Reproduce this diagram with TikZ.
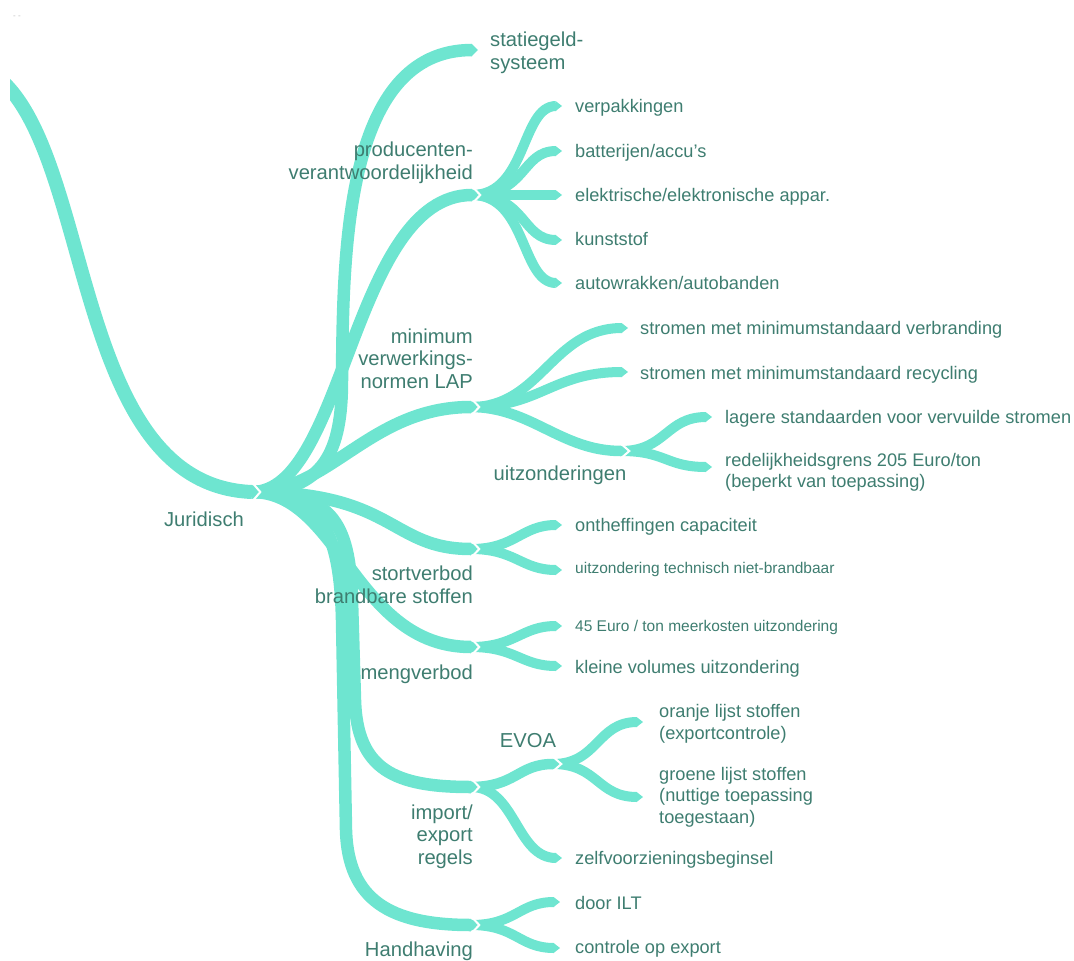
\documentclass[tikz,border=0pt]{standalone}
\usepackage{fontspec}
\setmainfont{Liberation Sans}
\usetikzlibrary{calc}
\definecolor{br}{RGB}{110,229,208}
\definecolor{txt}{RGB}{62,125,112}
\tikzset{
  lroot/.style={draw=br, line width=14pt},
  lone/.style={draw=br, line width=12.5pt},
  ltwo/.style={draw=br, line width=10pt},
  lmid/.style={draw=br, line width=10.5pt},
  big/.style={text=txt, font=\fontsize{20.2}{22.5}\selectfont, inner sep=0pt, align=right, anchor=base east},
  bigc/.style={text=txt, font=\fontsize{20.2}{22.5}\selectfont, inner sep=0pt, anchor=base},
  leaf/.style={text=txt, font=\fontsize{18.2}{21.5}\selectfont, inner sep=0pt, align=left, anchor=base west},
  smallleaf/.style={text=txt, font=\fontsize{15.5}{18}\selectfont, inner sep=0pt, anchor=base west},
}
\newcommand\brc[5]{\draw[#1] (#2) .. controls ($(#2)+(#4,0)$) and ($(#3)+(-#5,0)$) .. (#3);}
\newcommand\tipat[2]{\fill[br] ($(#1)+(-0.4,{-#2/2})$) -- ($(#1)+(6,0)$) -- ($(#1)+(-0.4,{#2/2})$) -- cycle;}
\newcommand\notchat[2]{\draw[white,line width=2pt] ($(#1)+({8.3-(#2/2+4)*12/#2},{-(#2/2+4)})$) -- ($(#1)+(8.3,0)$) -- ($(#1)+({8.3-(#2/2+4)*12/#2},{#2/2+4})$);}
\begin{document}
\begin{tikzpicture}[x=1pt,y=-1pt]
\useasboundingbox (0,0) rectangle (1074,961);
% coordinates
\coordinate (r0) at (-5,75);
\coordinate (jur) at (252,492);
\coordinate (sta) at (472,50);
\coordinate (pro) at (472,195);
\coordinate (min) at (471,407);
\coordinate (sto) at (471,549);
\coordinate (men) at (471,647);
\coordinate (imp) at (471,787);
\coordinate (han) at (471,925);
\coordinate (verp) at (556,106);
\coordinate (batt) at (556,151);
\coordinate (elek) at (556,195);
\coordinate (kuns) at (556,240);
\coordinate (auto) at (556,283);
\coordinate (sverb) at (622,328);
\coordinate (srec) at (622,372);
\coordinate (uitz) at (621,451);
\coordinate (lag) at (706,417);
\coordinate (red) at (706,467);
\coordinate (onth) at (556,525);
\coordinate (tech) at (556,570);
\coordinate (eur) at (556,626);
\coordinate (klei) at (556,666);
\coordinate (evoa) at (553,764);
\coordinate (zelf) at (556,858);
\coordinate (oran) at (637,722);
\coordinate (groe) at (637,797);
\coordinate (ilt) at (554,902);
\coordinate (cont) at (554,948);
% root
\begin{scope}
\clip (10,0) rectangle (1074,961);
\draw[lroot] (r0) .. controls (95,150) and (70,485) .. (jur);
\end{scope}
% level 1
\draw[lone] (jur) .. controls (325,492) and (342,450) .. (342,380) .. controls (343,250) and (345,50) .. (sta);
\draw[lone] (jur) .. controls (345,492) and (352,195) .. (pro);
\draw[lone] (jur) .. controls (330,492) and (370,407) .. (min);
\draw[lone] (jur) .. controls (395,492) and (390,549) .. (sto);
\draw[lone] (jur) .. controls (340,492) and (355,647) .. (men);
\draw[lone] (jur) .. controls (330,492) and (350,520) .. (352,600) -- (355,700) .. controls (357,770) and (395,787) .. (imp);
\draw[lone] (jur) .. controls (320,492) and (340,530) .. (342,620) -- (346,830) .. controls (348,900) and (390,925) .. (han);
% level 2
\brc{ltwo}{pro}{verp}{55}{35}
\brc{ltwo}{pro}{batt}{55}{35}
\brc{ltwo}{pro}{elek}{55}{35}
\brc{ltwo}{pro}{kuns}{55}{35}
\brc{ltwo}{pro}{auto}{55}{35}
\brc{ltwo}{min}{sverb}{70}{70}
\brc{ltwo}{min}{srec}{70}{70}
\brc{lmid}{min}{uitz}{60}{60}
\brc{ltwo}{uitz}{lag}{45}{40}
\brc{ltwo}{uitz}{red}{45}{40}
\brc{ltwo}{sto}{onth}{45}{35}
\brc{ltwo}{sto}{tech}{45}{35}
\brc{ltwo}{men}{eur}{45}{35}
\brc{ltwo}{men}{klei}{45}{35}
\brc{lmid}{imp}{evoa}{45}{35}
\brc{ltwo}{imp}{zelf}{45}{40}
\brc{ltwo}{evoa}{oran}{45}{40}
\brc{ltwo}{evoa}{groe}{45}{40}
\brc{ltwo}{han}{ilt}{45}{35}
\brc{ltwo}{han}{cont}{45}{35}
% tips
\tipat{jur}{14}
\foreach \c in {sta,pro,min,sto,men,imp,han} {\tipat{\c}{12.5}}
\foreach \c in {uitz,evoa} {\tipat{\c}{10.5}}
\foreach \c in {verp,batt,elek,kuns,auto,sverb,srec,lag,red,onth,tech,eur,klei,zelf,oran,groe,ilt,cont} {\tipat{\c}{10}}
% notches
\notchat{jur}{14}
\foreach \c in {pro,min,sto,men,imp,han} {\notchat{\c}{12.5}}
\foreach \c in {uitz,evoa} {\notchat{\c}{10.5}}
% labels (base anchor = baseline of the last line)
\node[text=gray!50, font=\fontsize{8}{9}\selectfont, inner sep=0pt, anchor=base west] (dash) at (13,19) {- -};
\node[bigc] (tjur) at (204,526) {Juridisch};
\node[big, align=left, anchor=base west] (tsta) at (490,69) {statiegeld-\\systeem};
\node[big] (tpro) at (473,179) {producenten-\\verantwoordelijkheid};
\node[big] (tmin) at (473,388) {minimum\\verwerkings-\\normen LAP};
\node[bigc] (tuitz) at (560,480) {uitzonderingen};
\node[big] (tsto) at (473,603) {stortverbod\\brandbare stoffen};
\node[big] (tmen) at (473,679) {mengverbod};
\node[bigc] (tevoa) at (528,747) {EVOA};
\node[big] (timp) at (473,864) {import/\\export\\regels};
\node[big] (than) at (473,956) {Handhaving};
\node[leaf] (lverp) at (575,112) {verpakkingen};
\node[leaf] (lbatt) at (575,157.5) {batterijen/accu's};
\node[leaf] (lelek) at (575,201.5) {elektrische/elektronische appar.};
\node[leaf] (lkuns) at (575,245.5) {kunststof};
\node[leaf] (lauto) at (575,289.5) {autowrakken/autobanden};
\node[leaf] (lsverb) at (640,334.5) {stromen met minimumstandaard verbranding};
\node[leaf] (lsrec) at (640,379.5) {stromen met minimumstandaard recycling};
\node[leaf] (llag) at (725,423) {lagere standaarden voor vervuilde stromen};
\node[leaf] (lred) at (725,487.5) {redelijkheidsgrens 205 Euro/ton\\(beperkt van toepassing)};
\node[leaf] (lonth) at (575,531.5) {ontheffingen capaciteit};
\node[smallleaf] (ltech) at (575,573.5) {uitzondering technisch niet-brandbaar};
\node[smallleaf] (leur) at (575,631.5) {45 Euro / ton meerkosten uitzondering};
\node[leaf] (lklei) at (575,673.5) {kleine volumes uitzondering};
\node[leaf] (loran) at (659,739) {oranje lijst stoffen\\(exportcontrole)};
\node[leaf] (lgroe) at (659,823) {groene lijst stoffen\\(nuttige toepassing\\toegestaan)};
\node[leaf] (lzelf) at (575,864.5) {zelfvoorzieningsbeginsel};
\node[leaf] (lilt) at (575,909.5) {door ILT};
\node[leaf] (lcont) at (575,953.5) {controle op export};
\end{tikzpicture}
\end{document}
